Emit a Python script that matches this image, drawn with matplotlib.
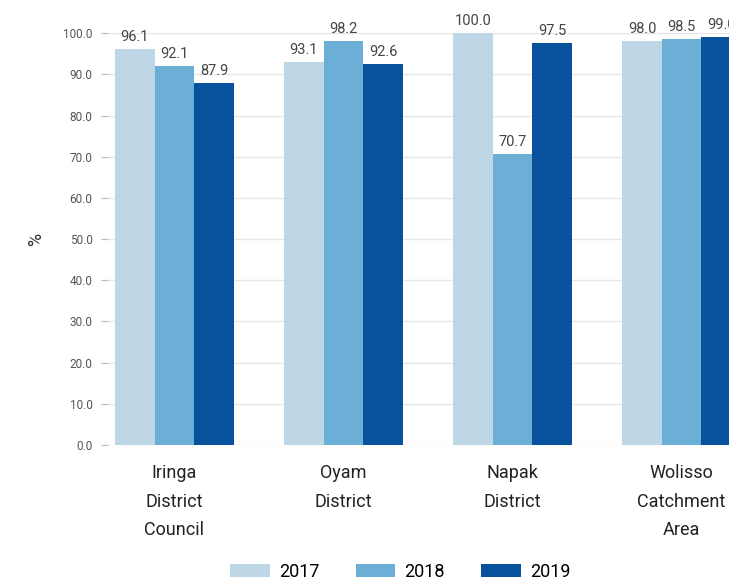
import matplotlib.pyplot as plt
import numpy as np

plt.rcParams['font.family'] = ['Roboto', 'DejaVu Sans']

categories = ['Iringa\nDistrict\nCouncil', 'Oyam\nDistrict', 'Napak\nDistrict', 'Wolisso\nCatchment\nArea']
years = ['2017', '2018', '2019']
v2017 = [96.1, 93.1, 100.0, 98.0]
v2018 = [92.1, 98.2, 70.7, 98.5]
v2019 = [87.9, 92.6, 97.5, 99.0]
colors = ['#bed7e6', '#6baed6', '#08519c']

fig = plt.figure(figsize=(7.29, 5.81), dpi=100)
ax = fig.add_axes([0.148, 0.234, 0.852, 0.709])

x = np.arange(len(categories))
w = 0.234
for i, (vals, c, lab) in enumerate(zip([v2017, v2018, v2019], colors, years)):
    bars = ax.bar(x + (i - 1) * w, vals, w, color=c, label=lab, zorder=3)
    for b, v in zip(bars, vals):
        ax.text(b.get_x() + b.get_width() / 2, v + 1.2, f'{v:.1f}', ha='center', va='bottom',
                fontsize=10.5, color='#444444', clip_on=False)

ax.set_ylim(0, 100)
ax.set_xlim(-0.393, 3.28)
ax.set_yticks(np.arange(0, 101, 10))
ax.set_yticklabels([f'{t:.1f}' for t in np.arange(0, 101, 10)], fontsize=8.5, color='#555555')
ax.set_xticks(x)
ax.set_xticklabels(categories, fontsize=13, color='#222222', linespacing=1.75, va='top')
ax.tick_params(axis='x', length=0, pad=14)
ax.tick_params(axis='y', length=5, color='#bbbbbb', pad=6)
ax.grid(axis='y', color='#e6e6e6', linewidth=1, zorder=0)
for s in ax.spines.values():
    s.set_visible(False)
ax.set_ylabel('%', fontsize=13, color='#333333', labelpad=13)

fig.legend(loc='center', bbox_to_anchor=(0.549, 0.016), ncol=3, frameon=False, fontsize=13,
           handlelength=2.2, handleheight=0.7, columnspacing=2.0, handletextpad=0.5)

fig.savefig('out.png', dpi=100)
